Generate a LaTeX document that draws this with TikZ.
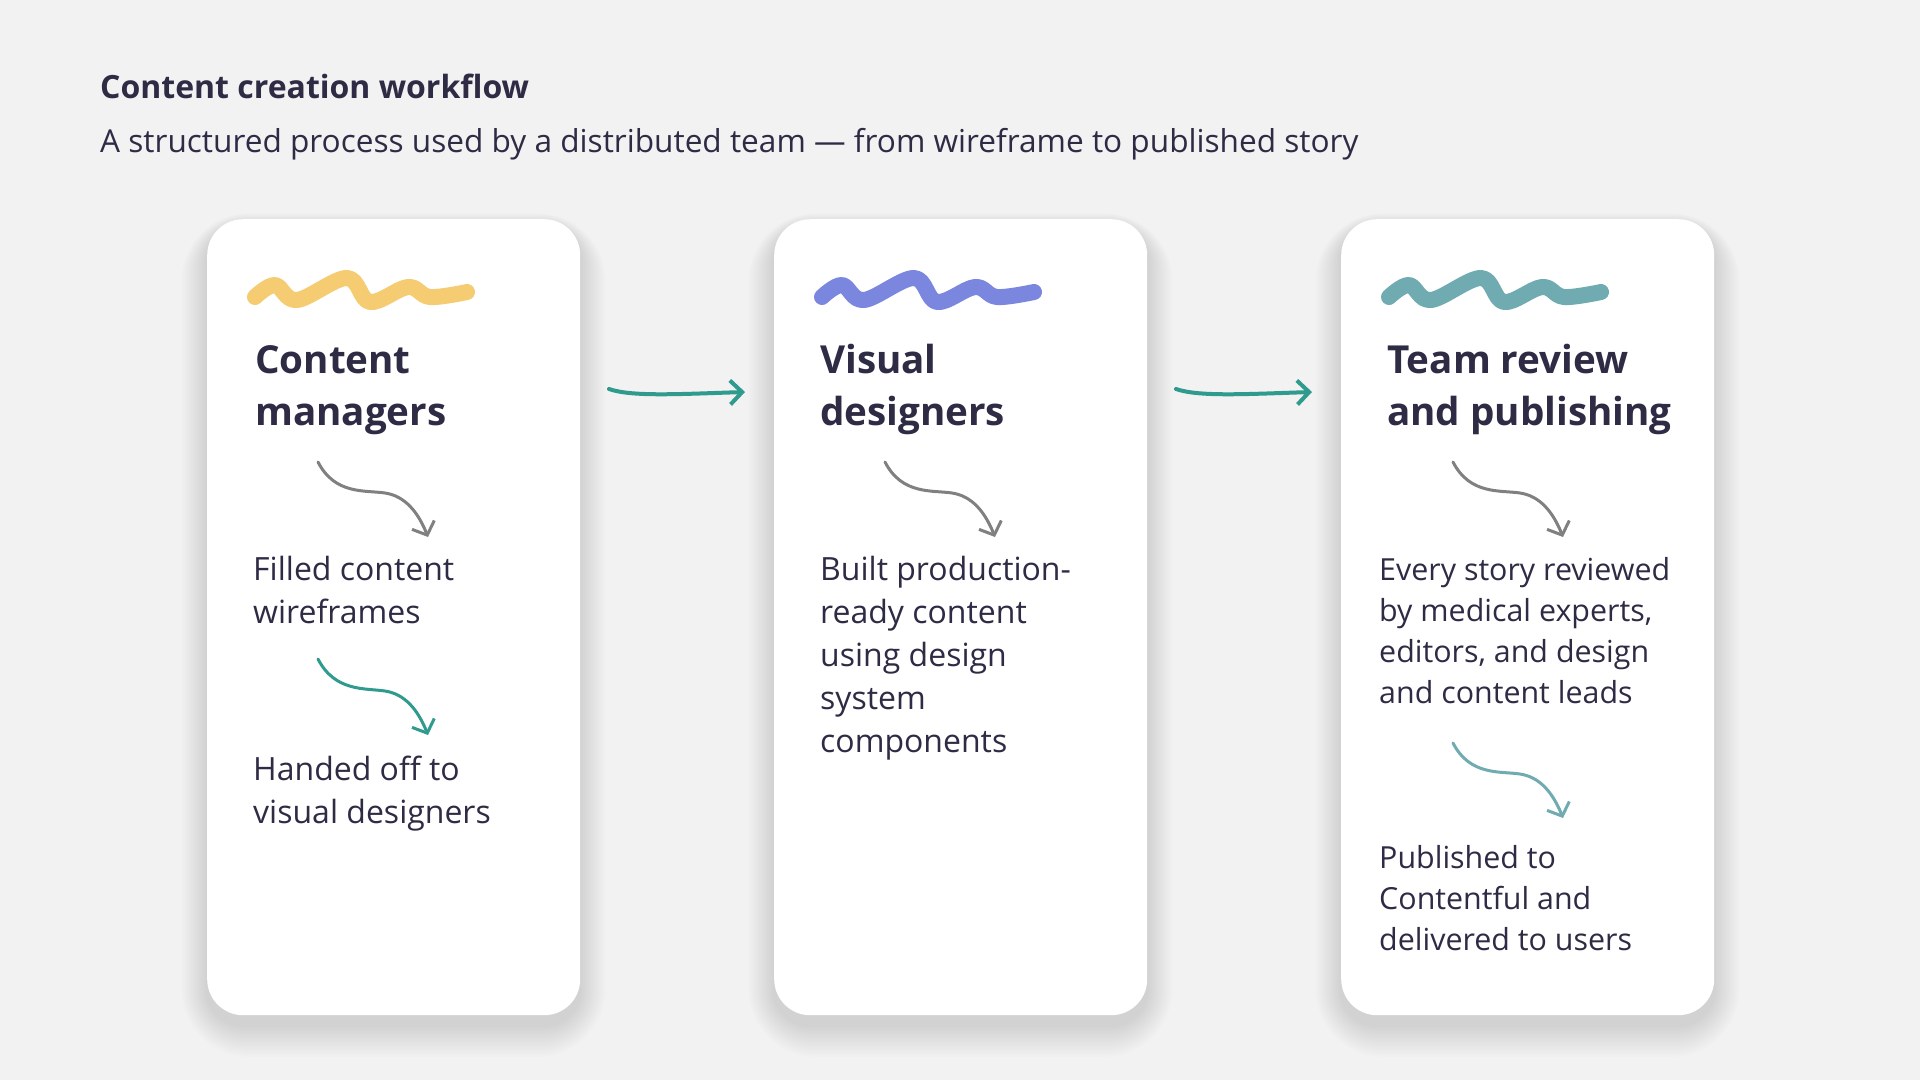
\documentclass[tikz,border=0pt]{standalone}
\usepackage{fontspec}
\setmainfont{Open Sans}
\usetikzlibrary{arrows.meta}
\definecolor{bgc}{HTML}{F2F2F2}
\definecolor{ink}{HTML}{2E2B45}
\definecolor{wavey}{HTML}{F5CC72}
\definecolor{waveb}{HTML}{7B87DE}
\definecolor{wavet}{HTML}{6FABB0}
\definecolor{flow}{HTML}{2F9A8E}
\definecolor{hint}{HTML}{808080}

\begin{document}
\begin{tikzpicture}[
  x=1pt, y=-1pt,
  card/.style={rectangle, rounded corners=36pt, fill=white, minimum width=373pt, minimum height=796pt,
    anchor=north west, inner sep=0pt},
  haze/.style={fill=black, opacity=0.007},
  head/.style={anchor=base west, align=left, inner sep=0pt, text=ink, font=\fontsize{38.6}{52}\selectfont\bfseries},
  body/.style={anchor=base west, align=left, inner sep=0pt, text=ink, font=\fontsize{32}{43}\selectfont},
  small/.style={anchor=base west, align=left, inner sep=0pt, text=ink, font=\fontsize{30.4}{41}\selectfont},
  wave/.style={line width=16pt, line cap=round, line join=round},
  arr/.style={-{Straight Barb[length=12pt,width=24pt]}, line width=4pt, line cap=round, flow},
  hop/.style={-{Straight Barb[length=11pt,width=24pt]}, line width=3pt, line cap=round}
]
\fill[bgc] (0,0) rectangle (1920,1080);
\useasboundingbox (0,0) rectangle (1920,1080);

\node[anchor=base west, inner sep=0pt, text=ink, font=\fontsize{32}{38}\selectfont\bfseries] (title) at (100,98) {Content creation workflow};
\node[anchor=base west, inner sep=0pt, text=ink, font=\fontsize{31.6}{38}\selectfont] (sub) at (100,152) {A structured process used by a distributed team — from wireframe to published story};

% soft shadows under the cards
\foreach \cx in {207,774,1341}
  \foreach \s in {2,4,...,32}
    \fill[haze, rounded corners=36+\s] ({\cx-\s*0.8},{226-\s*0.4}) rectangle ({\cx+373+\s*0.8},{1025+\s});

% content managers (multi-line nodes sit on their last baseline)
\node[card] (cm) at (207,219) {};
\draw[wave, wavey] plot[smooth, tension=0.6] coordinates {(255,297) (275,285) (297,300) (347,278) (370,302) (408,287) (430,297) (467,292)};
\node[head] (cmh) at (255,425) {Content\\managers};
\node[body] (cmt) at (253,623) {Filled content\\wireframes};
\node[body] (cmo) at (253,823) {Handed off to\\visual designers};
\coordinate (cm1) at (318,462); \coordinate (cm2) at (428,537);
\coordinate (cm3) at (318,659); \coordinate (cm4) at (428,735);
\draw[hop, hint] (cm1) .. controls (335,495) and (365,490) .. (385,493) .. controls (405,496) and (418,512) .. (cm2);
\draw[hop, flow] (cm3) .. controls (335,692) and (365,688) .. (385,691) .. controls (405,694) and (418,710) .. (cm4);

% visual designers
\node[card] (vd) at (774,219) {};
\draw[wave, waveb] plot[smooth, tension=0.6] coordinates {(822,297) (842,285) (864,300) (914,278) (937,302) (975,287) (997,297) (1034,292)};
\node[head] (vdh) at (820,425) {Visual\\designers};
\node[body] (vdt) at (820,752) {Built production-\\ready content\\using design\\system\\components};
\coordinate (vd1) at (885,462); \coordinate (vd2) at (995,537);
\draw[hop, hint] (vd1) .. controls (902,495) and (932,490) .. (952,493) .. controls (972,496) and (985,512) .. (vd2);

% team review and publishing
\node[card] (tr) at (1341,219) {};
\draw[wave, wavet] plot[smooth, tension=0.6] coordinates {(1389,297) (1409,285) (1431,300) (1481,278) (1504,302) (1542,287) (1564,297) (1601,292)};
\node[head] (trh) at (1387,425) {Team review\\and publishing};
\node[small] (trt) at (1379,703) {Every story reviewed\\by medical experts,\\editors, and design\\and content leads};
\node[small] (trp) at (1379,950) {Published to\\Contentful and\\delivered to users};
\coordinate (tr1) at (1453,462); \coordinate (tr2) at (1563,537);
\coordinate (tr3) at (1453,743); \coordinate (tr4) at (1563,818);
\draw[hop, hint] (tr1) .. controls (1470,495) and (1500,490) .. (1520,493) .. controls (1540,496) and (1553,512) .. (tr2);
\draw[hop, wavet] (tr3) .. controls (1470,776) and (1500,771) .. (1520,774) .. controls (1540,777) and (1553,793) .. (tr4);

% hand-offs between the teams
\coordinate (a1) at (609,389); \coordinate (a2) at (745,392);
\coordinate (b1) at (1176,389); \coordinate (b2) at (1312,392);
\draw[arr] (a1) .. controls (632,397) and (680,394) .. (a2);
\draw[arr] (b1) .. controls (1199,397) and (1247,394) .. (b2);
\end{tikzpicture}
\end{document}
